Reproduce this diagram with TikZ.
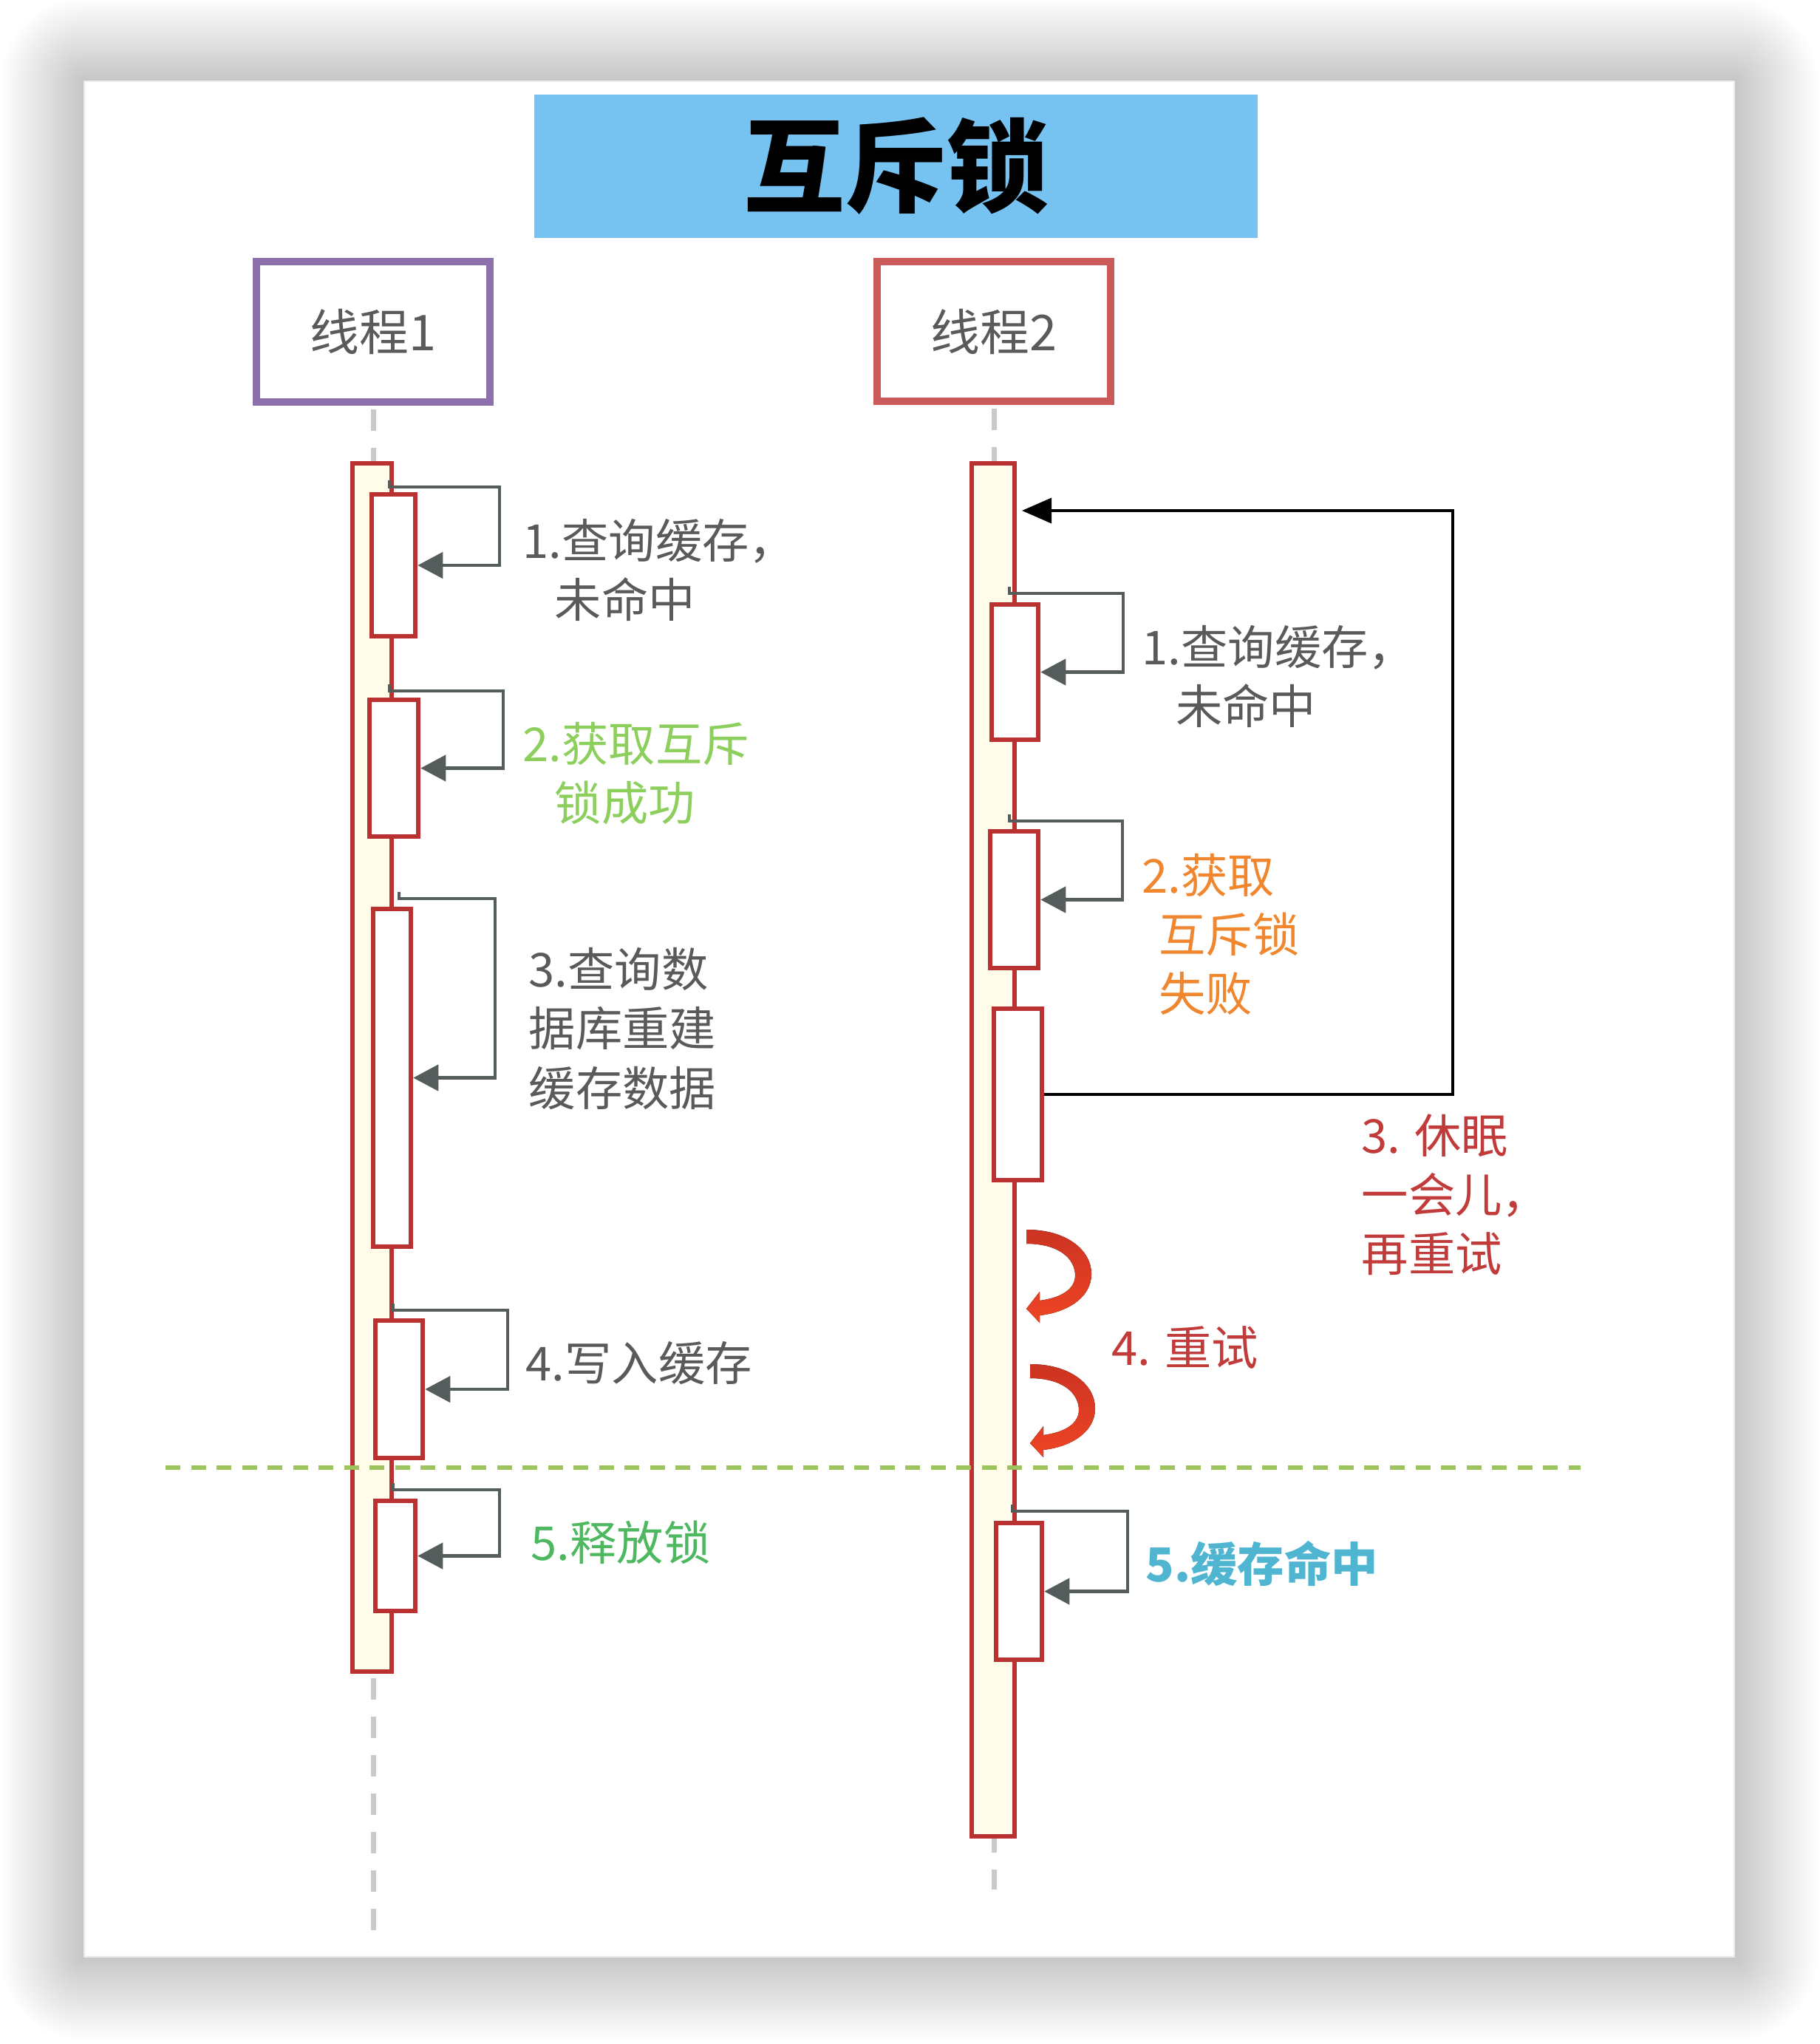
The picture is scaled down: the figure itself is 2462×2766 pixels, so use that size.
\documentclass[tikz,border=0pt]{standalone}
\usepackage{fontspec}
\setmainfont{Noto Sans CJK SC}
\usetikzlibrary{arrows.meta,fit}
\definecolor{titleblue}{HTML}{76C2F1}
\definecolor{threadpurple}{HTML}{8D6FAB}
\definecolor{threadred}{HTML}{CB5B5B}
\definecolor{barred}{HTML}{B93231}
\definecolor{barfill}{HTML}{FFFDE9}
\definecolor{msggray}{HTML}{555C5C}
\definecolor{txtgray}{HTML}{5A5A5A}
\definecolor{okgreen}{HTML}{8CCF5C}
\definecolor{relgreen}{HTML}{4DB860}
\definecolor{failorange}{HTML}{F0862E}
\definecolor{sleepred}{HTML}{C23B3B}
\definecolor{hitblue}{HTML}{50B5D1}
\definecolor{sepgreen}{HTML}{9CC45C}
\definecolor{lifegray}{HTML}{C9C9C9}
\definecolor{retrydark}{HTML}{CC3322}
\definecolor{retrylight}{HTML}{EE4524}

\tikzset{
  threadbox/.style={draw=#1, line width=0.1cm, inner sep=0pt, fill=white,
    minimum width=3.16cm, minimum height=1.89cm,
    text=txtgray, font=\fontsize{19}{23}\selectfont},
  titlebox/.style={fill=titleblue, inner sep=0pt, text=black,
    minimum width=9.79cm, minimum height=1.94cm,
    font=\bfseries\fontsize{39}{44}\selectfont},
  lifebar/.style={draw=barred, line width=0.065cm, fill=barfill, inner sep=0pt},
  actbox/.style={draw=barred, line width=0.065cm, fill=white, inner sep=0pt},
  lifeline/.style={draw=lifegray, line width=0.07cm, dash pattern=on 0.29cm off 0.23cm},
  sepline/.style={draw=sepgreen, line width=0.055cm, dash pattern=on 0.2cm off 0.145cm},
  msg/.style={draw=msggray, line width=0.045cm, -{Triangle[length=0.34cm,width=0.35cm]}},
  retryline/.style={draw=black, line width=0.035cm, -{Triangle[length=0.4cm,width=0.34cm]}},
  lbl/.style={anchor=north west, inner sep=0pt, align=left,
    font=\fontsize{18}{22.76}\selectfont},
  retry/.pic={
    \fill[top color=retrydark, bottom color=retrylight]
      (0,0) .. controls (55,0) and (88,28) .. (88,60)
      .. controls (88,92) and (55,112) .. (18,116)
      -- (18,126) -- (0,107) -- (18,84) -- (18,96)
      .. controls (48,92) and (66,80) .. (66,62)
      .. controls (66,40) and (45,19) .. (0,19) -- cycle;
  }
}

\begin{document}
\begin{tikzpicture}[x=0.01cm, y=-0.01cm]
  \useasboundingbox (0,0) rectangle (2462,2766);
  \fill[white] (0,0) rectangle (2462,2766);
  % shadow round the card
  \foreach \i in {1,...,28} {
    \pgfmathsetmacro\sh{4*\i}
    \fill[black, opacity=0.0062, rounded corners=\sh*0.01cm]
      (114-\sh,110-\sh) rectangle (2347+\sh,2648+\sh);
  }
  \fill[white, draw=black!8, line width=0.02cm] (114,110) rectangle (2347,2648);

  % title and threads
  \node[titlebox] (title) at (1212.5,225) {互斥锁};
  \node[threadbox=threadpurple] (t1) at (505,449) {线程1};
  \node[threadbox=threadred] (t2) at (1345,448.5) {线程2};

  % lifelines
  \coordinate (end1) at (505,2626);
  \coordinate (end2) at (1345,2557);
  \draw[lifeline, shorten <=0.05cm] (t1.south) -- (end1);
  \draw[lifeline, shorten <=0.05cm] (t2.south) -- (end2);

  % activation bars and boxes
  \foreach \nm/\xa/\ya/\xb/\yb in {bar1/477/627/530/2262, bar2/1315/627/1373/2485}
    \node[lifebar, fit={(\xa,\ya) (\xb,\yb)}] (\nm) {};
  \foreach \nm/\xa/\ya/\xb/\yb in {
    a1/503/669/562/861, a2/500/947/566/1132, a3/505/1230/556/1687,
    a4/508/1787/572/1973, a5/508/2031/562/2180,
    b1/1342/818/1405/1001, b2/1340/1125/1405/1310, b3/1345/1365/1410/1597,
    b5/1348/2061/1410/2246}
    \node[actbox, fit={(\xa,\ya) (\xb,\yb)}] (\nm) {};

  % self messages
  \foreach \bx/\sx/\sy/\fx in {
    a1/527/659/676, a2/527/935/681, a3/540/1216/670, a4/532/1773/687,
    a5/532/2016/676, b1/1366/803/1520, b2/1366/1111/1519, b5/1370/2045/1526}
  {
    \coordinate (\bx-s) at (\sx,\sy-9);
    \draw[msg] (\bx-s) |- ++(\fx-\sx,9) |- (\bx.east);
  }

  % sleep and retry loop
  \coordinate (turn) at (1966,691);
  \coordinate (wake) at (1383,691);
  \draw[retryline] (b3.east) -| (turn) -- (wake);
  \pic (rt1) at (1389,1664) {retry};
  \pic (rt2) at (1394,1846) {retry};

  % separator
  \coordinate (sepL) at (224,1986);
  \coordinate (sepR) at (2139,1986);
  \draw[sepline] (sepL) -- (sepR);

  % labels
  \node[lbl, text=txtgray] (q1) at (707,702) {1.查询缓存，\\\hspace*{0.68em}未命中};
  \node[lbl, text=okgreen] (g1) at (707,977) {2.获取互斥\\\hspace*{0.68em}锁成功};
  \node[lbl, text=txtgray] (d1) at (715,1282) {3.查询数\\据库重建\\缓存数据};
  \node[lbl, text=txtgray] (w1) at (711,1815) {4.写入缓存};
  \node[lbl, text=relgreen] (r1) at (718,2057) {5.释放锁};
  \node[lbl, text=txtgray] (q2) at (1545,846) {1.查询缓存，\\\hspace*{0.72em}未命中};
  \node[lbl, text=failorange] (f2) at (1545,1155) {2.获取\\\hspace*{0.36em}互斥锁\\\hspace*{0.36em}失败};
  \node[lbl, text=sleepred] (s2) at (1842,1507) {3. 休眠\\一会儿，\\再重试};
  \node[lbl, text=sleepred] (y2) at (1504,1794) {4. 重试};
  \node[lbl, text=hitblue, font=\bfseries\fontsize{18}{22.76}\selectfont] (h2) at (1550,2084) {5.缓存命中};
\end{tikzpicture}
\end{document}
